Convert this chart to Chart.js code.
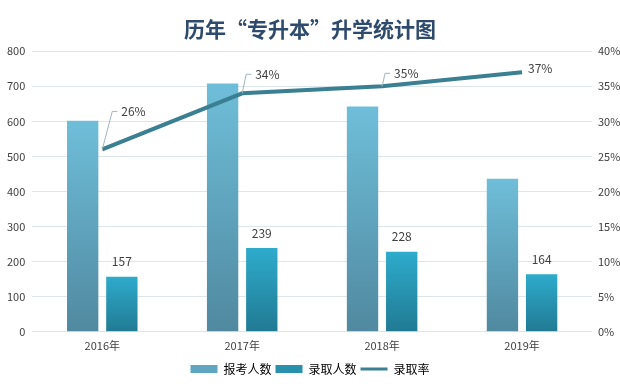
<!DOCTYPE html>
<html>
<head>
<meta charset="utf-8">
<script src="https://cdn.jsdelivr.net/npm/chart.js@4.4.1/dist/chart.umd.min.js"></script>
<style>
  html, body { margin: 0; padding: 0; background: #fff; }
  #wrap { width: 620px; height: 390px; }
</style>
</head>
<body>
<div id="wrap"><canvas id="grafico"></canvas></div>
<script>
// datos
const categorias = ['2016年', '2017年', '2018年', '2019年'];
const baokao = [602, 708, 642, 436];      // 报考人数
const luqu = [157, 239, 228, 164];        // 录取人数
const luquLv = [26, 34, 35, 37];          // 录取率 (%)
const ticksIzq = [0, 100, 200, 300, 400, 500, 600, 700, 800];
const ticksDer = [0, 5, 10, 15, 20, 25, 30, 35, 40];

const fuente = '"Noto Sans CJK SC", sans-serif';

// degradado por barra, de arriba (claro) a abajo (oscuro)
function degradado(arriba, abajo) {
    return function (ctx) {
        const chart = ctx.chart;
        const y = chart.scales.y;
        if (!y || ctx.raw == null) return arriba;
        const top = y.getPixelForValue(ctx.raw);
        const bottom = y.getPixelForValue(0);
        const g = chart.ctx.createLinearGradient(0, top, 0, bottom);
        g.addColorStop(0, arriba);
        g.addColorStop(1, abajo);
        return g;
    };
}

// etiquetas: valores sobre 录取人数 y porcentajes con línea guía
const etiquetasPlugin = {
    id: 'etiquetas',
    afterDatasetsDraw(chart) {
        const ctx = chart.ctx;
        ctx.save();
        ctx.font = '12px ' + fuente;
        ctx.fillStyle = '#404040';
        ctx.textAlign = 'center';
        ctx.textBaseline = 'bottom';
        chart.getDatasetMeta(1).data.forEach((bar, i) => {
            ctx.fillText(String(luqu[i]), bar.x, bar.y - 9);
        });

        // desplazamientos de las etiquetas de porcentaje
        const desp = [[10, -38], [4, -19], [3, -13], [null, -4]];
        ctx.textAlign = 'left';
        ctx.textBaseline = 'middle';
        ctx.strokeStyle = '#9fb3bd';
        ctx.lineWidth = 1;
        chart.getDatasetMeta(2).data.forEach((pt, i) => {
            const [dx, dy] = desp[i];
            if (dx === null) {
                ctx.fillText(luquLv[i] + '%', pt.x + 6, pt.y + dy);
                return;
            }
            const ex = pt.x + dx, ey = pt.y + dy;
            ctx.beginPath();
            ctx.moveTo(pt.x, pt.y);
            ctx.lineTo(ex, ey);
            ctx.lineTo(ex + 5, ey);
            ctx.stroke();
            ctx.fillText(luquLv[i] + '%', ex + 9, ey);
        });
        ctx.restore();
    }
};

new Chart(document.getElementById('grafico'), {
    data: {
        labels: categorias,
        datasets: [
            {
                type: 'bar',
                label: '报考人数',
                data: baokao,
                yAxisID: 'y',
                backgroundColor: degradado('#6fbed9', '#5089a0'),
                categoryPercentage: 0.56,
                barPercentage: 0.8,
                order: 2
            },
            {
                type: 'bar',
                label: '录取人数',
                data: luqu,
                yAxisID: 'y',
                backgroundColor: degradado('#2eabcc', '#217a93'),
                categoryPercentage: 0.56,
                barPercentage: 0.8,
                order: 2
            },
            {
                type: 'line',
                label: '录取率',
                data: luquLv,
                yAxisID: 'y1',
                borderColor: '#3a7f92',
                backgroundColor: '#3a7f92',
                borderWidth: 4,
                pointRadius: 0,
                tension: 0,
                order: 1
            }
        ]
    },
    options: {
        responsive: true,
        maintainAspectRatio: false,
        animation: false,
        layout: { padding: { left: 0, right: 0, top: 0, bottom: 5 } },
        plugins: {
            title: {
                display: true,
                text: '历年“专升本”升学统计图',
                color: '#2e4a6c',
                font: { family: fuente, size: 21, weight: 'bold' },
                padding: { top: 16, bottom: 10 }
            },
            legend: {
                position: 'bottom',
                labels: {
                    usePointStyle: true,
                    pointStyleWidth: 27,
                    boxHeight: 8,
                    boxWidth: 27,
                    padding: 4,
                    color: '#404040',
                    font: { family: fuente, size: 12 },
                    generateLabels() {
                        return [
                            { text: '报考人数', fillStyle: '#60a6c1', strokeStyle: '#60a6c1', lineWidth: 0, pointStyle: 'rect', datasetIndex: 0 },
                            { text: '录取人数', fillStyle: '#2a91ad', strokeStyle: '#2a91ad', lineWidth: 0, pointStyle: 'rect', datasetIndex: 1 },
                            { text: '录取率', fillStyle: '#3a7f92', strokeStyle: '#3a7f92', lineWidth: 3, pointStyle: 'line', datasetIndex: 2 }
                        ];
                    }
                }
            },
            tooltip: { enabled: false }
        },
        scales: {
            x: {
                grid: { display: false, drawTicks: false },
                border: { display: false },
                ticks: { color: '#404040', font: { family: fuente, size: 11 }, padding: 7 }
            },
            y: {
                position: 'left',
                min: 0,
                max: 800,
                afterBuildTicks(axis) { axis.ticks = ticksIzq.map(v => ({ value: v })); },
                grid: { color: '#dde6ea', drawTicks: false },
                border: { display: false },
                ticks: { color: '#404040', font: { family: fuente, size: 11 }, padding: 7 }
            },
            y1: {
                position: 'right',
                min: 0,
                max: 40,
                afterBuildTicks(axis) { axis.ticks = ticksDer.map(v => ({ value: v })); },
                afterFit(axis) { axis.width = 28; },
                grid: { display: false, drawTicks: false },
                border: { display: false },
                ticks: {
                    color: '#404040',
                    font: { family: fuente, size: 11 },
                    padding: 6,
                    callback: v => v + '%'
                }
            }
        }
    },
    plugins: [etiquetasPlugin]
});
</script>
</body>
</html>
